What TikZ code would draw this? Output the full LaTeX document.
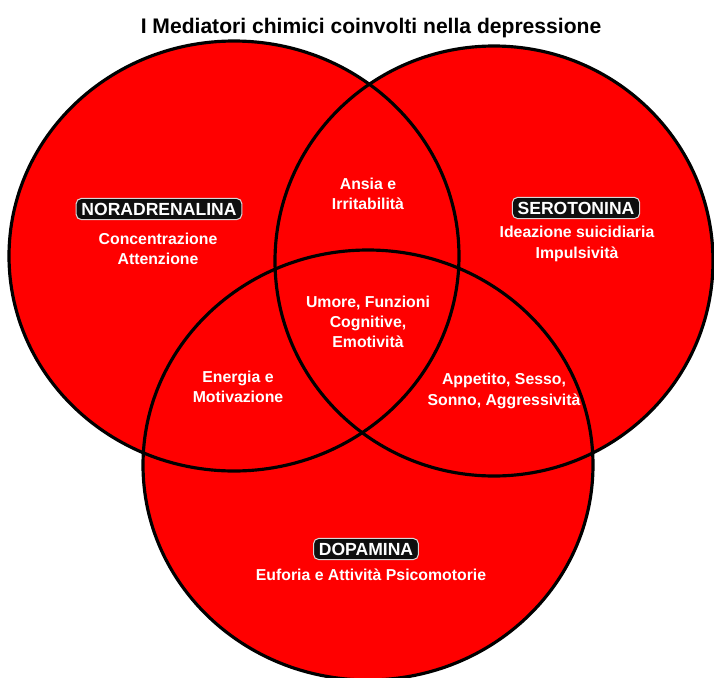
\documentclass[tikz,border=0pt]{standalone}
\usepackage{fontspec}
\setmainfont{Liberation Sans}
\usetikzlibrary{positioning}
\definecolor{VR}{RGB}{255,0,0}
\definecolor{DK}{RGB}{15,15,15}
\definecolor{GL}{RGB}{215,215,215}

\begin{document}
\begin{tikzpicture}[
  x=0.02cm, y=-0.02cm,
  venn/.style={x radius=#1, y radius=215},
  venn/.default=225,
  ring/.style={draw=black, line width=1.8pt},
  tag/.style={fill=DK, draw=GL, line width=0.6pt, rounded corners=3pt,
              text=white, inner xsep=3pt, inner ysep=2.5pt,
              font=\fontsize{10}{12}\selectfont\bfseries},
  txt/.style={text=white, align=center, inner sep=0pt,
              font=\fontsize{9}{11.5}\selectfont\bfseries}
]
\useasboundingbox (0,0) rectangle (714,677);

% Title
\node[font=\fontsize{12}{14}\selectfont\bfseries] (title) at (371,28)
  {I Mediatori chimici coinvolti nella depressione};

% Circle centres and widths
\coordinate (nor) at (234,256);
\coordinate (ser) at (494,261);
\coordinate (dop) at (368,465);

% Fills first, then all outlines on top
\foreach \c/\r in {nor/225,ser/219,dop/225}
  \fill[VR] (\c) ellipse[venn=\r];
\foreach \c/\r in {nor/225,ser/219,dop/225}
  \draw[ring] (\c) ellipse[venn=\r];

% Single sets
\node[tag] (nor-tag) at (159,209) {NORADRENALINA};
\node[txt] (nor-txt) at (158,249) {Concentrazione\\Attenzione};
\node[tag] (ser-tag) at (576,208) {SEROTONINA};
\node[txt] (ser-txt) at (577,244) {Ideazione suicidiaria\\Impulsivit\`a};
\node[tag] (dop-tag) at (366,549) {DOPAMINA};
\node[txt] (dop-txt) at (371,575) {Euforia e Attivit\`a Psicomotorie};

% Overlaps
\node[txt] (ns) at (368,194) {Ansia e\\Irritabilit\`a};
\node[txt] (nd) at (238,387) {Energia e\\Motivazione};
\node[txt] (sd) at (504,391) {Appetito, Sesso,\\Sonno, Aggressivit\`a};
\node[txt] (all) at (368,322) {Umore, Funzioni\\Cognitive,\\Emotivit\`a};
\end{tikzpicture}
\end{document}
